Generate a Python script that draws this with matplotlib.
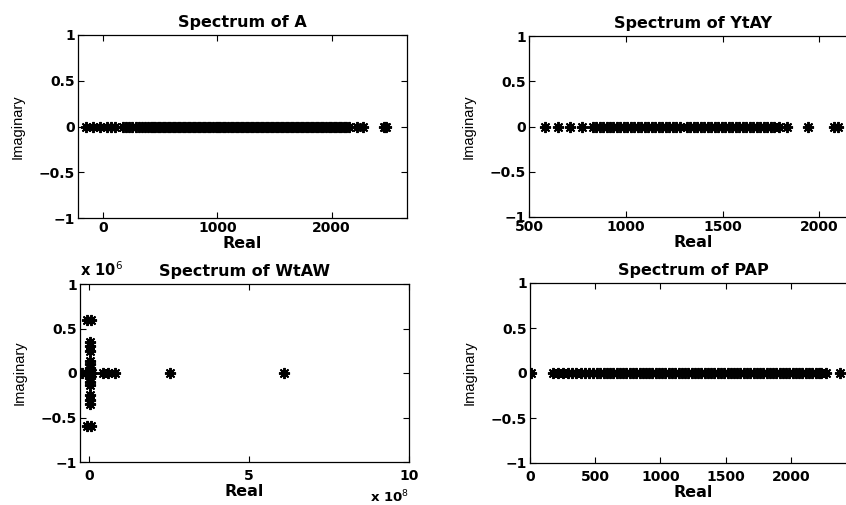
import matplotlib.pyplot as plt
from matplotlib.ticker import FuncFormatter

plt.rcParams['font.family'] = ['DejaVu Sans']
plt.rcParams['axes.unicode_minus'] = True

# 各矩阵的特征值（实部，虚部）
realA = [-148, -85, -26, 35, 70, 105, 175, 200, 225, 255, 285, 310, 340, 365, 390, 415, 437,
         455, 478, 499, 521, 544, 566, 587, 609, 632, 653, 675, 698, 719, 741, 763, 786,
         807, 829, 852, 873, 895, 918, 939, 961, 984, 1005, 1027, 1050, 1071, 1093, 1116,
         1137, 1159, 1182, 1203, 1225, 1247, 1269, 1291, 1313, 1335, 1357, 1379, 1401,
         1423, 1445, 1467, 1489, 1511, 1533, 1555, 1577, 1599, 1621, 1643, 1665, 1687,
         1709, 1731, 1753, 1775, 1797, 1819, 1841, 1863, 1885, 1907, 1929, 1951, 1973,
         1995, 2017, 2039, 2061, 2083, 2105, 2128, 2150, 2218, 2271, 2463, 2478]
imagA = [0.0] * len(realA)

realYtAY = [583, 651, 713, 772, 830, 848, 866, 884, 902, 918, 936, 955, 972, 990, 1008,
            1026, 1044, 1062, 1080, 1098, 1116, 1134, 1152, 1170, 1188, 1206, 1224, 1242,
            1262, 1282, 1315, 1333, 1352, 1370, 1388, 1405, 1423, 1441, 1460, 1478, 1496,
            1514, 1532, 1550, 1568, 1586, 1604, 1622, 1640, 1658, 1676, 1694, 1712, 1730,
            1748, 1766, 1790, 1831, 1942, 2078, 2098]
imagYtAY = [0.0] * len(realYtAY)

realWtAW = [-0.22e8, 0.0, 0.02e8, 0.05e8, 0.1e8, 0.45e8, 0.6e8, 0.82e8, 2.52e8, 6.1e8,
            -0.05e8, -0.05e8, 0.05e8, 0.05e8, 0.03e8, 0.03e8, 0.03e8, 0.03e8,
            0.03e8, 0.03e8, 0.03e8, 0.03e8, 0.03e8, 0.03e8, 0.03e8, 0.03e8,
            0.03e8, 0.03e8]
imagWtAW = [0, 0, 0, 0, 0, 0, 0, 0, 0, 0,
            0.59e6, -0.59e6, 0.59e6, -0.59e6, 0.35e6, -0.35e6, 0.30e6, -0.30e6,
            0.25e6, -0.25e6, 0.13e6, -0.13e6, 0.10e6, -0.10e6, 0.06e6, -0.06e6,
            0.03e6, -0.03e6]

realPAP = [10, 177, 215, 250, 290, 320, 355, 390, 420, 450, 480, 510, 540, 565, 590, 615,
           640, 665, 690, 714, 739, 765, 789, 814, 840, 864, 889, 915, 939, 964, 990, 1014,
           1039, 1065, 1089, 1114, 1140, 1164, 1189, 1215, 1239, 1264, 1290, 1314, 1339,
           1365, 1389, 1414, 1440, 1464, 1489, 1515, 1539, 1564, 1590, 1614, 1639, 1665,
           1689, 1714, 1740, 1764, 1789, 1815, 1839, 1864, 1890, 1914, 1939, 1965, 1989,
           2014, 2040, 2064, 2089, 2115, 2139, 2164, 2190, 2214, 2235, 2270, 2375]
imagPAP = [0.0] * len(realPAP)

titles = ['Spectrum of A', 'Spectrum of YtAY', 'Spectrum of WtAW', 'Spectrum of PAP']
xTicks = [[0, 1000, 2000], [500, 1000, 1500, 2000], [0, 5e8, 10e8], [0, 500, 1000, 1500, 2000]]
yTicks = [[-1, -0.5, 0, 0.5, 1], [-1, -0.5, 0, 0.5, 1],
          [-1e6, -0.5e6, 0, 0.5e6, 1e6], [-1, -0.5, 0, 0.5, 1]]
xLims = [(-220, 2660), (500, 2200), (-0.28e8, 10e8), (0, 2500)]
yLims = [(-1, 1), (-1, 1), (-1e6, 1e6), (-1, 1)]

# 坐标轴位置（像素换算成比例），右边两幅图被裁掉一点
W, H = 846.0, 505.0
boxes = [(78, 35, 329, 183), (529, 36, 329, 181), (80, 284, 329, 178), (530, 283, 326, 180)]

fig = plt.figure(figsize=(8.46, 5.05), dpi=100, facecolor='white')
data = [(realA, imagA), (realYtAY, imagYtAY), (realWtAW, imagWtAW), (realPAP, imagPAP)]

for i in range(4):
    l, t, w, h = boxes[i]
    ax = fig.add_axes([l / W, (H - t - h) / H, w / W, h / H])
    xs, ys = data[i]
    ax.plot(xs, ys, linestyle='none', marker=(8, 2, 0), markersize=8,
            markeredgewidth=1.4, color='black')
    ax.set_xlim(xLims[i])
    ax.set_ylim(yLims[i])
    ax.set_xticks(xTicks[i])
    ax.set_yticks(yTicks[i])
    ax.tick_params(direction='in', top=True, right=True, length=4, width=0.8,
                   labelsize=10, pad=2, colors='black')
    if i >= 2:
        ax.tick_params(axis='x', pad=5)  # 下面两幅图的刻度字稍低
    for lab in ax.get_xticklabels() + ax.get_yticklabels():
        lab.set_fontweight('bold')
    for s in ax.spines.values():
        s.set_linewidth(0.9)
    ax.set_title(titles[i], fontsize=11.5, fontweight='bold', pad=6)
    ax.set_xlabel('Real', fontsize=11.5, fontweight='bold', labelpad=1)
    ax.set_ylabel('Imaginary', fontsize=10.5, family='Liberation Sans', labelpad=10)
    if i == 2:
        ax.xaxis.set_major_formatter(FuncFormatter(lambda v, p: '%g' % (v / 1e8)))
        ax.yaxis.set_major_formatter(
            FuncFormatter(lambda v, p: ('%g' % (v / 1e6)).replace('-', '\u2212')))
        ax.text(0.0, 1.03, r'x 10$^{6}$', transform=ax.transAxes, fontsize=10.5,
                fontweight='bold', ha='left', va='bottom')
        ax.text(1.0, -0.225, r'x 10$^{8}$', transform=ax.transAxes, fontsize=9.5,
                fontweight='bold', ha='right', va='baseline')
    else:
        ax.yaxis.set_major_formatter(
            FuncFormatter(lambda v, p: ('%g' % v).replace('-', '\u2212')))

fig.savefig('out.png', dpi=100)
